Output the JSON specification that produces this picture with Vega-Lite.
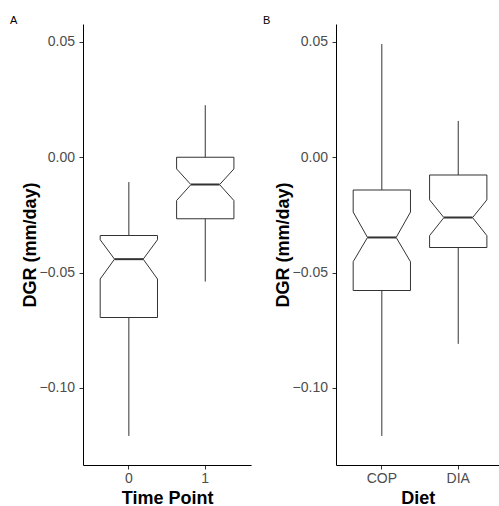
{
  "$schema": "https://vega.github.io/schema/vega-lite/v6.json",
  "padding": {"left": 10, "top": 15, "right": 0, "bottom": 0},
  "spacing": 11,
  "config": {
    "font": "Liberation Sans",
    "view": {"stroke": null},
    "axis": {"grid": false, "domainColor": "#000000", "domainWidth": 1, "tickColor": "#333333", "tickSize": 4, "labelColor": "#4d4d4d", "labelFontSize": 14, "labelPadding": 2, "titleColor": "#000000", "titleFontSize": 18, "titleFontWeight": "bold"},
    "axisY": {"titlePadding": 0, "labelPadding": 4.5},
    "axisX": {"titlePadding": 4, "labelAngle": 0},
    "title": {"fontSize": 11, "fontWeight": "normal", "anchor": "start", "frame": "bounds", "dx": -11, "offset": -2.2, "color": "#000000"}
  },
  "datasets": {
    "stats": [
      {"panel": "A", "group": "0", "lower": -0.1208, "q1": -0.0695, "notchLower": -0.0528, "median": -0.0442, "notchUpper": -0.0358, "q3": -0.0340, "upper": -0.0108},
      {"panel": "A", "group": "1", "lower": -0.0539, "q1": -0.0267, "notchLower": -0.0188, "median": -0.0119, "notchUpper": -0.0051, "q3": 0.0, "upper": 0.0225},
      {"panel": "B", "group": "COP", "lower": -0.1208, "q1": -0.0578, "notchLower": -0.0453, "median": -0.0348, "notchUpper": -0.0238, "q3": -0.0142, "upper": 0.0490},
      {"panel": "B", "group": "DIA", "lower": -0.0809, "q1": -0.0392, "notchLower": -0.0340, "median": -0.0262, "notchUpper": -0.0185, "q3": -0.0077, "upper": 0.0157}
    ],
    "shape": [
      {"key": "q3", "ord": 0, "L": "outerL", "R": "outerR"},
      {"key": "notchUpper", "ord": 1, "L": "outerL", "R": "outerR"},
      {"key": "median", "ord": 2, "L": "innerL", "R": "innerR"},
      {"key": "notchLower", "ord": 3, "L": "outerL", "R": "outerR"},
      {"key": "q1", "ord": 4, "L": "outerL", "R": "outerR"}
    ]
  },
  "hconcat": [
    {
      "title": "A",
      "width": 168.1,
      "height": 441,
      "data": {"name": "stats"},
      "transform": [{"filter": "datum.panel === 'A'"}],
      "encoding": {
        "x": {"field": "group", "type": "nominal", "title": "Time Point", "scale": {"paddingInner": 0, "paddingOuter": 0.1}}
      },
      "layer": [
        {"mark": {"type": "rule", "color": "#333333", "strokeWidth": 1},
         "encoding": {"y": {"field": "upper", "type": "quantitative", "title": "DGR (mm/day)", "scale": {"domain": [-0.1334, 0.0577], "nice": false, "zero": false}, "axis": {"values": [-0.1, -0.05, 0, 0.05], "format": ".2f"}}, "y2": {"field": "q3"}}},
        {"mark": {"type": "rule", "color": "#333333", "strokeWidth": 1},
         "encoding": {"y": {"field": "q1", "type": "quantitative", "title": "DGR (mm/day)"}, "y2": {"field": "lower"}}},
        {"mark": {"type": "tick", "color": "#333333", "thickness": 1, "size": 57.3, "opacity": 1},
         "encoding": {"y": {"field": "q3", "type": "quantitative", "title": "DGR (mm/day)"}}},
        {"mark": {"type": "tick", "color": "#333333", "thickness": 1, "size": 57.3, "opacity": 1},
         "encoding": {"y": {"field": "q1", "type": "quantitative", "title": "DGR (mm/day)"}}},
        {"mark": {"type": "tick", "color": "#333333", "thickness": 2, "size": 28.6, "opacity": 1},
         "encoding": {"y": {"field": "median", "type": "quantitative", "title": "DGR (mm/day)"}}},
        {"transform": [{"fold": ["q3", "notchUpper", "median", "notchLower", "q1"]}, {"lookup": "key", "from": {"data": {"name": "shape"}, "key": "key", "fields": ["ord", "L", "R"]}}],
         "mark": {"type": "line", "color": "#333333", "strokeWidth": 1},
         "encoding": {"y": {"field": "value", "type": "quantitative", "title": "DGR (mm/day)"}, "xOffset": {"field": "L", "type": "nominal", "scale": {"type": "point", "domain": ["outerL", "innerL", "center", "innerR", "outerR"], "padding": 0.6667}}, "detail": {"field": "group"}, "order": {"field": "ord", "type": "quantitative"}}},
        {"transform": [{"fold": ["q3", "notchUpper", "median", "notchLower", "q1"]}, {"lookup": "key", "from": {"data": {"name": "shape"}, "key": "key", "fields": ["ord", "L", "R"]}}],
         "mark": {"type": "line", "color": "#333333", "strokeWidth": 1},
         "encoding": {"y": {"field": "value", "type": "quantitative", "title": "DGR (mm/day)"}, "xOffset": {"field": "R", "type": "nominal", "scale": {"type": "point", "domain": ["outerL", "innerL", "center", "innerR", "outerR"], "padding": 0.6667}}, "detail": {"field": "group"}, "order": {"field": "ord", "type": "quantitative"}}}
      ]
    },
    {
      "title": "B",
      "width": 163.7,
      "height": 441,
      "data": {"name": "stats"},
      "transform": [{"filter": "datum.panel === 'B'"}],
      "encoding": {
        "x": {"field": "group", "type": "nominal", "title": "Diet", "scale": {"paddingInner": 0, "paddingOuter": 0.0713, "align": 0.7}}
      },
      "layer": [
        {"mark": {"type": "rule", "color": "#333333", "strokeWidth": 1},
         "encoding": {"y": {"field": "upper", "type": "quantitative", "title": "DGR (mm/day)", "scale": {"domain": [-0.1334, 0.0577], "nice": false, "zero": false}, "axis": {"values": [-0.1, -0.05, 0, 0.05], "format": ".2f"}}, "y2": {"field": "q3"}}},
        {"mark": {"type": "rule", "color": "#333333", "strokeWidth": 1},
         "encoding": {"y": {"field": "q1", "type": "quantitative", "title": "DGR (mm/day)"}, "y2": {"field": "lower"}}},
        {"mark": {"type": "tick", "color": "#333333", "thickness": 1, "size": 57.3, "opacity": 1},
         "encoding": {"y": {"field": "q3", "type": "quantitative", "title": "DGR (mm/day)"}}},
        {"mark": {"type": "tick", "color": "#333333", "thickness": 1, "size": 57.3, "opacity": 1},
         "encoding": {"y": {"field": "q1", "type": "quantitative", "title": "DGR (mm/day)"}}},
        {"mark": {"type": "tick", "color": "#333333", "thickness": 2, "size": 28.6, "opacity": 1},
         "encoding": {"y": {"field": "median", "type": "quantitative", "title": "DGR (mm/day)"}}},
        {"transform": [{"fold": ["q3", "notchUpper", "median", "notchLower", "q1"]}, {"lookup": "key", "from": {"data": {"name": "shape"}, "key": "key", "fields": ["ord", "L", "R"]}}],
         "mark": {"type": "line", "color": "#333333", "strokeWidth": 1},
         "encoding": {"y": {"field": "value", "type": "quantitative", "title": "DGR (mm/day)"}, "xOffset": {"field": "L", "type": "nominal", "scale": {"type": "point", "domain": ["outerL", "innerL", "center", "innerR", "outerR"], "padding": 0.6667}}, "detail": {"field": "group"}, "order": {"field": "ord", "type": "quantitative"}}},
        {"transform": [{"fold": ["q3", "notchUpper", "median", "notchLower", "q1"]}, {"lookup": "key", "from": {"data": {"name": "shape"}, "key": "key", "fields": ["ord", "L", "R"]}}],
         "mark": {"type": "line", "color": "#333333", "strokeWidth": 1},
         "encoding": {"y": {"field": "value", "type": "quantitative", "title": "DGR (mm/day)"}, "xOffset": {"field": "R", "type": "nominal", "scale": {"type": "point", "domain": ["outerL", "innerL", "center", "innerR", "outerR"], "padding": 0.6667}}, "detail": {"field": "group"}, "order": {"field": "ord", "type": "quantitative"}}}
      ]
    }
  ]
}
